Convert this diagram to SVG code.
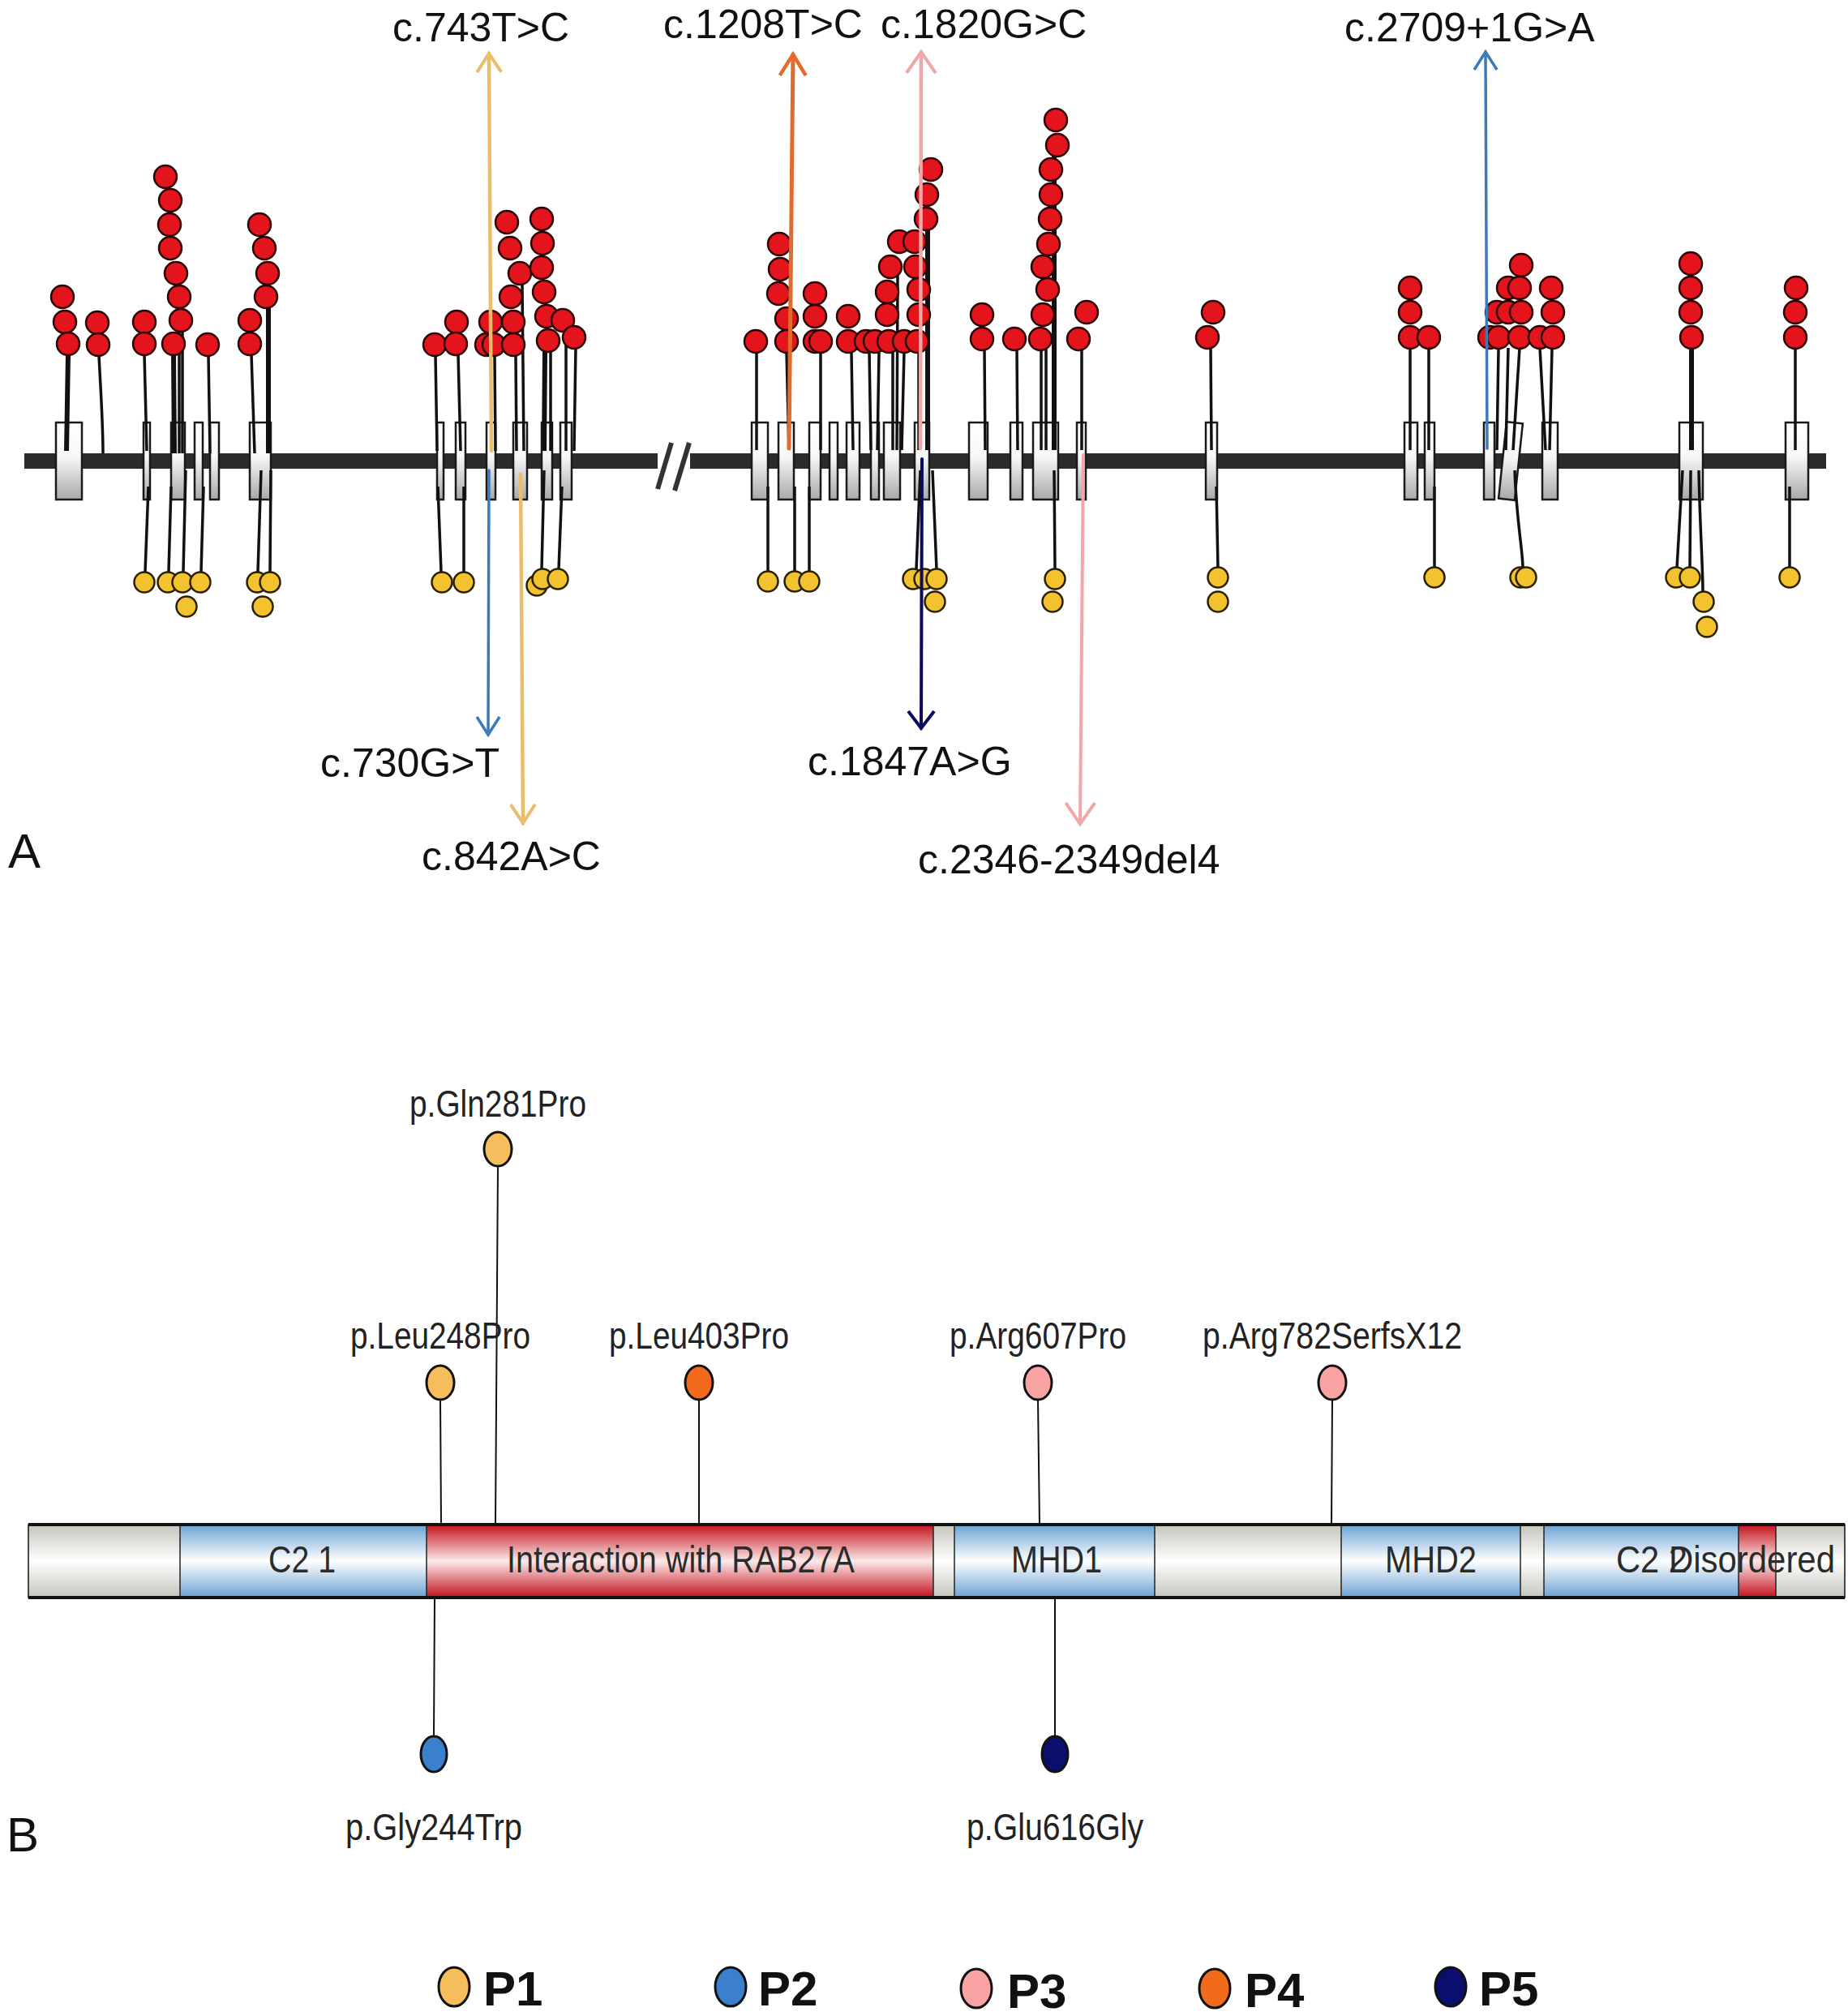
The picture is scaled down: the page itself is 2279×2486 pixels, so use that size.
<svg xmlns="http://www.w3.org/2000/svg" width="2279" height="2486" viewBox="0 0 2279 2486">
<style>
text{font-family:"Liberation Sans",Arial,sans-serif}
.lab{font-size:50px;fill:#111}
.plab{font-size:46px;fill:#222;text-anchor:middle}
.dom{font-size:47px;fill:#2b2b2b}
.panel{font-size:60px;fill:#111}
.leg{font-size:60px;font-weight:bold;fill:#111}
.ex{fill:url(#exg);stroke:#1a1a1a;stroke-width:2.5}
.r{fill:#e3141b;stroke:#2a0505;stroke-width:2.5}
.y{fill:#f3c22f;stroke:#2a2000;stroke-width:2.5}
.st{stroke:#111;stroke-width:3.5;fill:none}
.stk{stroke:#111;stroke-width:6;fill:none}
.ps{stroke:#111;stroke-width:2;fill:none}
.pe{stroke:#111;stroke-width:3}
.arr{fill:none;stroke-linecap:round}
.seg{stroke:#222;stroke-width:1.5}
</style>
<defs>
<linearGradient id="exg" x1="0" y1="0" x2="0" y2="1"><stop offset="0" stop-color="#ffffff"/><stop offset="0.45" stop-color="#f7f7f7"/><stop offset="1" stop-color="#a8a8a8"/></linearGradient>
<linearGradient id="gGrey" x1="0" y1="0" x2="0" y2="1"><stop offset="0" stop-color="#c4c5bc"/><stop offset="0.5" stop-color="#ffffff"/><stop offset="1" stop-color="#c4c5bc"/></linearGradient>
<linearGradient id="gBlue" x1="0" y1="0" x2="0" y2="1"><stop offset="0" stop-color="#6aa2d3"/><stop offset="0.5" stop-color="#ffffff"/><stop offset="1" stop-color="#6aa2d3"/></linearGradient>
<linearGradient id="gRed" x1="0" y1="0" x2="0" y2="1"><stop offset="0" stop-color="#c3111b"/><stop offset="0.5" stop-color="#fbeaea"/><stop offset="1" stop-color="#c3111b"/></linearGradient>
<marker id="mGold" viewBox="-26 -20 30 40" refX="0" refY="0" markerWidth="30" markerHeight="40" markerUnits="userSpaceOnUse" orient="auto"><path d="M-23,-15 L0,0 L-23,15" fill="none" stroke="#e9bd6a" stroke-width="4"/></marker>
<marker id="mBlue" viewBox="-26 -20 30 40" refX="0" refY="0" markerWidth="30" markerHeight="40" markerUnits="userSpaceOnUse" orient="auto"><path d="M-22,-14 L0,0 L-22,14" fill="none" stroke="#3d7ab8" stroke-width="3.5"/></marker>
<marker id="mOrange" viewBox="-30 -20 34 40" refX="0" refY="0" markerWidth="34" markerHeight="40" markerUnits="userSpaceOnUse" orient="auto"><path d="M-26,-16 L0,0 L-26,16" fill="none" stroke="#e26a2c" stroke-width="4.5"/></marker>
<marker id="mPink" viewBox="-30 -22 34 44" refX="0" refY="0" markerWidth="34" markerHeight="44" markerUnits="userSpaceOnUse" orient="auto"><path d="M-26,-18 L0,0 L-26,18" fill="none" stroke="#f1a7a7" stroke-width="4"/></marker>
<marker id="mNavy" viewBox="-26 -20 30 40" refX="0" refY="0" markerWidth="30" markerHeight="40" markerUnits="userSpaceOnUse" orient="auto"><path d="M-21,-16 L0,0 L-21,16" fill="none" stroke="#0b0b5c" stroke-width="4"/></marker>
</defs>
<rect width="2279" height="2486" fill="#ffffff"/>

<!-- PANEL A -->
<g id="backbone">
<rect x="30" y="559" width="781" height="19" fill="#2b2b2b"/>
<rect x="851" y="559" width="1401" height="19" fill="#2b2b2b"/>
<line x1="811" y1="603" x2="828" y2="546" stroke="#333" stroke-width="6"/>
<line x1="832" y1="605" x2="850" y2="546" stroke="#333" stroke-width="6"/>
</g>

<g id="exons">
<rect class="ex" x="69" y="521" width="32" height="95"/>
<rect class="ex" x="177" y="521" width="8" height="95"/>
<rect class="ex" x="211" y="521" width="17" height="95"/>
<rect class="ex" x="240" y="521" width="10" height="95"/>
<rect class="ex" x="259" y="521" width="11" height="95"/>
<rect class="ex" x="308" y="521" width="26" height="95"/>
<rect class="ex" x="539" y="521" width="8" height="95"/>
<rect class="ex" x="562" y="521" width="12" height="95"/>
<rect class="ex" x="600" y="521" width="11" height="95"/>
<rect class="ex" x="633" y="521" width="17" height="95"/>
<rect class="ex" x="668" y="521" width="13" height="95"/>
<rect class="ex" x="691" y="521" width="14" height="95"/>
<rect class="ex" x="927" y="521" width="20" height="95"/>
<rect class="ex" x="960" y="521" width="19" height="95"/>
<rect class="ex" x="998" y="521" width="14" height="95"/>
<rect class="ex" x="1023" y="521" width="10" height="95"/>
<rect class="ex" x="1044" y="521" width="16" height="95"/>
<rect class="ex" x="1074" y="521" width="10" height="95"/>
<rect class="ex" x="1090" y="521" width="20" height="95"/>
<rect class="ex" x="1128" y="521" width="18" height="95"/>
<rect class="ex" x="1195" y="521" width="23" height="95"/>
<rect class="ex" x="1246" y="521" width="15" height="95"/>
<rect class="ex" x="1274" y="521" width="31" height="95"/>
<rect class="ex" x="1328" y="521" width="11" height="95"/>
<rect class="ex" x="1487" y="521" width="14" height="95"/>
<rect class="ex" x="1732" y="521" width="16" height="95"/>
<rect class="ex" x="1757" y="521" width="12" height="95"/>
<rect class="ex" x="1830" y="521" width="13" height="95"/>
<rect class="ex" x="1853" y="521" width="20" height="95" transform="rotate(6 1863 568)"/>
<rect class="ex" x="1902" y="521" width="19" height="95"/>
<rect class="ex" x="2071" y="521" width="29" height="95"/>
<rect class="ex" x="2202" y="521" width="28" height="95"/>
</g>

<g id="red-lollipops">
<g id="r-stems">
<path class="stk" d="M84,437 L82,556"/>
<path class="st" d="M122,438 C124,480 127,520 127,559"/>
<path class="st" d="M178,437 L181,556"/>
<path class="stk" d="M214,437 L215,559"/>
<path class="st" d="M221,400 L221,559"/>
<path class="st" d="M225,400 L225,559"/>
<path class="st" d="M257,438 L259,559"/>
<path class="st" d="M310,437 L314,559"/>
<path class="stk" d="M331,379 L331,559"/>
<path class="st" d="M537,438 L539,556"/>
<path class="st" d="M565,437 L568,556"/>
<path class="st" d="M610,437 L611,556"/>
<path class="st" d="M636,437 L637,556"/>
<path class="st" d="M644,350 L646,556"/>
<path class="stk" d="M672,433 L671,556"/>
<path class="st" d="M679,433 L679,556"/>
<path class="st" d="M698,408 L698,556"/>
<path class="st" d="M710,429 L708,556"/>
<path class="st" d="M933,434 L933,555"/>
<path class="st" d="M970,434 L973,555"/>
<path class="st" d="M1012,434 L1012,555"/>
<path class="st" d="M1050,434 L1052,555"/>
<path class="st" d="M1072,434 L1074,555"/>
<path class="st" d="M1084,434 L1082,555"/>
<path class="st" d="M1101,434 L1101,555"/>
<path class="st" d="M1107,340 L1106,555"/>
<path class="st" d="M1115,434 L1112,555"/>
<path class="st" d="M1133,434 L1133,555"/>
<path class="stk" d="M1144,283 L1144,555"/>
<path class="st" d="M1214,431 L1215,555"/>
<path class="st" d="M1254,431 L1255,555"/>
<path class="stk" d="M1300,192 L1300,555"/>
<path class="st" d="M1284,431 L1284,555"/>
<path class="st" d="M1290,431 L1290,555"/>
<path class="st" d="M1334,431 L1334,555"/>
<path class="st" d="M1493,429 L1494,555"/>
<path class="st" d="M1739,429 L1739,555"/>
<path class="st" d="M1762,429 L1762,555"/>
<path class="st" d="M1848,429 L1846,555"/>
<path class="st" d="M1860,429 L1857,555"/>
<path class="st" d="M1874,429 L1866,555"/>
<path class="st" d="M1899,429 L1906,555"/>
<path class="st" d="M1914,429 L1911,555"/>
<path class="stk" d="M2086,429 L2086,555"/>
<path class="st" d="M2214,429 L2214,555"/>
</g>
<g id="r-heads">
<circle class="r" cx="77" cy="366" r="14"/><circle class="r" cx="80" cy="397" r="14"/><circle class="r" cx="84" cy="424" r="14"/>
<circle class="r" cx="120" cy="398" r="14"/><circle class="r" cx="121" cy="425" r="14"/>
<circle class="r" cx="178" cy="397" r="14"/><circle class="r" cx="178" cy="424" r="14"/>
<circle class="r" cx="204" cy="218" r="14"/><circle class="r" cx="210" cy="247" r="14"/><circle class="r" cx="209" cy="277" r="14"/><circle class="r" cx="210" cy="306" r="14"/><circle class="r" cx="217" cy="337" r="14"/><circle class="r" cx="221" cy="366" r="14"/><circle class="r" cx="223" cy="395" r="14"/><circle class="r" cx="214" cy="424" r="14"/>
<circle class="r" cx="256" cy="425" r="14"/>
<circle class="r" cx="308" cy="395" r="14"/><circle class="r" cx="308" cy="424" r="14"/>
<circle class="r" cx="320" cy="277" r="14"/><circle class="r" cx="326" cy="306" r="14"/><circle class="r" cx="330" cy="337" r="14"/><circle class="r" cx="328" cy="366" r="14"/>
<circle class="r" cx="536" cy="425" r="14"/>
<circle class="r" cx="563" cy="397" r="14"/><circle class="r" cx="562" cy="424" r="14"/>
<circle class="r" cx="605" cy="397" r="14"/><circle class="r" cx="600" cy="425" r="14"/><circle class="r" cx="609" cy="425" r="14"/>
<circle class="r" cx="625" cy="274" r="14"/><circle class="r" cx="629" cy="306" r="14"/><circle class="r" cx="641" cy="337" r="14"/><circle class="r" cx="630" cy="366" r="14"/><circle class="r" cx="633" cy="397" r="14"/><circle class="r" cx="633" cy="425" r="14"/>
<circle class="r" cx="668" cy="270" r="14"/><circle class="r" cx="669" cy="300" r="14"/><circle class="r" cx="668" cy="330" r="14"/><circle class="r" cx="671" cy="360" r="14"/><circle class="r" cx="674" cy="390" r="14"/><circle class="r" cx="676" cy="420" r="14"/>
<circle class="r" cx="694" cy="395" r="14"/><circle class="r" cx="708" cy="416" r="14"/>
<circle class="r" cx="932" cy="421" r="14"/>
<circle class="r" cx="961" cy="301" r="14"/><circle class="r" cx="962" cy="332" r="14"/><circle class="r" cx="960" cy="362" r="14"/><circle class="r" cx="970" cy="393" r="14"/><circle class="r" cx="970" cy="421" r="14"/>
<circle class="r" cx="1005" cy="362" r="14"/><circle class="r" cx="1005" cy="390" r="14"/><circle class="r" cx="1005" cy="421" r="14"/><circle class="r" cx="1012" cy="421" r="14"/>
<circle class="r" cx="1046" cy="390" r="14"/><circle class="r" cx="1046" cy="421" r="14"/>
<circle class="r" cx="1068" cy="421" r="14"/><circle class="r" cx="1079" cy="421" r="14"/>
<circle class="r" cx="1109" cy="298" r="14"/><circle class="r" cx="1098" cy="329" r="14"/><circle class="r" cx="1094" cy="360" r="14"/><circle class="r" cx="1094" cy="388" r="14"/><circle class="r" cx="1096" cy="421" r="14"/><circle class="r" cx="1115" cy="421" r="14"/>
<circle class="r" cx="1128" cy="298" r="14"/><circle class="r" cx="1129" cy="329" r="14"/><circle class="r" cx="1133" cy="357" r="14"/><circle class="r" cx="1133" cy="388" r="14"/><circle class="r" cx="1131" cy="421" r="14"/><circle class="r" cx="1148" cy="209" r="14"/><circle class="r" cx="1143" cy="240" r="14"/><circle class="r" cx="1142" cy="270" r="14"/>
<circle class="r" cx="1211" cy="388" r="14"/><circle class="r" cx="1211" cy="418" r="14"/>
<circle class="r" cx="1251" cy="418" r="14"/>
<circle class="r" cx="1302" cy="148" r="14"/><circle class="r" cx="1304" cy="179" r="14"/><circle class="r" cx="1296" cy="209" r="14"/><circle class="r" cx="1296" cy="240" r="14"/><circle class="r" cx="1295" cy="270" r="14"/><circle class="r" cx="1293" cy="301" r="14"/><circle class="r" cx="1286" cy="329" r="14"/><circle class="r" cx="1292" cy="357" r="14"/><circle class="r" cx="1286" cy="388" r="14"/><circle class="r" cx="1283" cy="418" r="14"/>
<circle class="r" cx="1340" cy="385" r="14"/><circle class="r" cx="1330" cy="418" r="14"/>
<circle class="r" cx="1496" cy="385" r="14"/><circle class="r" cx="1489" cy="416" r="14"/>
<circle class="r" cx="1739" cy="355" r="14"/><circle class="r" cx="1739" cy="385" r="14"/><circle class="r" cx="1739" cy="416" r="14"/><circle class="r" cx="1762" cy="416" r="14"/>
<circle class="r" cx="1837" cy="416" r="14"/><circle class="r" cx="1846" cy="385" r="14"/><circle class="r" cx="1860" cy="355" r="14"/><circle class="r" cx="1876" cy="327" r="14"/><circle class="r" cx="1874" cy="355" r="14"/><circle class="r" cx="1860" cy="385" r="14"/><circle class="r" cx="1876" cy="385" r="14"/><circle class="r" cx="1848" cy="416" r="14"/><circle class="r" cx="1874" cy="416" r="14"/><circle class="r" cx="1899" cy="416" r="14"/>
<circle class="r" cx="1913" cy="355" r="14"/><circle class="r" cx="1915" cy="385" r="14"/><circle class="r" cx="1915" cy="416" r="14"/>
<circle class="r" cx="2085" cy="325" r="14"/><circle class="r" cx="2085" cy="355" r="14"/><circle class="r" cx="2085" cy="385" r="14"/><circle class="r" cx="2086" cy="416" r="14"/>
<circle class="r" cx="2215" cy="355" r="14"/><circle class="r" cx="2214" cy="385" r="14"/><circle class="r" cx="2214" cy="416" r="14"/>
</g>
</g>

<g id="yellow-lollipops">
<g id="y-stems">
<path class="st" d="M183,600 L179,705"/>
<path class="st" d="M211,600 L208,705"/>
<path class="st" d="M229,580 L226,705"/>
<path class="st" d="M251,600 L248,705"/>
<path class="st" d="M322,580 L318,705"/>
<path class="st" d="M334,580 L333,705"/>
<path class="st" d="M540,600 L544,705"/>
<path class="st" d="M572,600 L572,705"/>
<path class="st" d="M671,580 L668,702"/>
<path class="st" d="M693,600 L689,702"/>
<path class="st" d="M947,600 L947,705"/>
<path class="st" d="M980,600 L980,705"/>
<path class="st" d="M998,600 L998,705"/>
<path class="st" d="M1135,580 L1130,702"/>
<path class="st" d="M1150,580 L1155,702"/>
<path class="st" d="M1300,580 L1301,702"/>
<path class="st" d="M1500,600 L1502,700"/>
<path class="st" d="M1769,600 L1769,700"/>
<path class="st" d="M1868,580 C1870,640 1878,680 1878,700"/>
<path class="st" d="M2075,580 L2068,700"/>
<path class="st" d="M2085,580 L2084,700"/>
<path class="st" d="M2095,580 C2096,640 2100,700 2100,730"/>
<path class="st" d="M2207,600 L2207,700"/>
</g>
<g id="y-heads">
<circle class="y" cx="178" cy="718" r="12.5"/>
<circle class="y" cx="207" cy="718" r="12.5"/>
<circle class="y" cx="225" cy="718" r="12.5"/><circle class="y" cx="230" cy="748" r="12.5"/>
<circle class="y" cx="247" cy="718" r="12.5"/>
<circle class="y" cx="317" cy="718" r="12.5"/><circle class="y" cx="333" cy="718" r="12.5"/><circle class="y" cx="324" cy="748" r="12.5"/>
<circle class="y" cx="545" cy="718" r="12.5"/>
<circle class="y" cx="572" cy="718" r="12.5"/>
<circle class="y" cx="662" cy="722" r="12.5"/><circle class="y" cx="669" cy="714" r="12.5"/>
<circle class="y" cx="688" cy="714" r="12.5"/>
<circle class="y" cx="947" cy="717" r="12.5"/>
<circle class="y" cx="980" cy="717" r="12.5"/><circle class="y" cx="998" cy="717" r="12.5"/>
<circle class="y" cx="1126" cy="714" r="12.5"/><circle class="y" cx="1140" cy="714" r="12.5"/><circle class="y" cx="1155" cy="714" r="12.5"/><circle class="y" cx="1153" cy="742" r="12.5"/>
<circle class="y" cx="1301" cy="714" r="12.5"/><circle class="y" cx="1298" cy="742" r="12.5"/>
<circle class="y" cx="1502" cy="712" r="12.5"/><circle class="y" cx="1502" cy="742" r="12.5"/>
<circle class="y" cx="1769" cy="712" r="12.5"/>
<circle class="y" cx="1875" cy="712" r="12.5"/><circle class="y" cx="1882" cy="712" r="12.5"/>
<circle class="y" cx="2067" cy="712" r="12.5"/><circle class="y" cx="2084" cy="712" r="12.5"/><circle class="y" cx="2101" cy="742" r="12.5"/><circle class="y" cx="2105" cy="773" r="12.5"/>
<circle class="y" cx="2207" cy="712" r="12.5"/>
</g>
</g>

<g id="connectors">
<path class="arr" d="M606,556 L603,66" stroke="#e9bd6a" stroke-width="4.5" marker-end="url(#mGold)"/>
<path class="arr" d="M603,580 L602,906" stroke="#3d7ab8" stroke-width="3.5" marker-end="url(#mBlue)"/>
<path class="arr" d="M642,585 L645,1015" stroke="#e9bd6a" stroke-width="4.5" marker-end="url(#mGold)"/>
<path class="arr" d="M973,553 L978,67" stroke="#e26a2c" stroke-width="5" marker-end="url(#mOrange)"/>
<path class="arr" d="M1135,553 L1136,64" stroke="#f1a7a7" stroke-width="4.5" marker-end="url(#mPink)"/>
<path class="arr" d="M1137,566 L1136,898" stroke="#0b0b5c" stroke-width="4" marker-end="url(#mNavy)"/>
<path class="arr" d="M1336,561 L1332,1016" stroke="#f1a7a7" stroke-width="4" marker-end="url(#mPink)"/>
<path class="arr" d="M1834,553 L1832,64" stroke="#3d7ab8" stroke-width="3.5" marker-end="url(#mBlue)"/>
</g>

<g id="labels-a">
<text class="lab" x="484" y="51">c.743T&gt;C</text>
<text class="lab" x="818" y="47">c.1208T&gt;C</text>
<text class="lab" x="1086" y="47">c.1820G&gt;C</text>
<text class="lab" x="1658" y="51">c.2709+1G&gt;A</text>
<text class="lab" x="395" y="958">c.730G&gt;T</text>
<text class="lab" x="996" y="956">c.1847A&gt;G</text>
<text class="lab" x="520" y="1073">c.842A&gt;C</text>
<text class="lab" x="1132" y="1077">c.2346-2349del4</text>
<text class="panel" x="10" y="1070">A</text>
</g>

<!-- PANEL B -->
<g id="protein">
<g id="dom-n"><rect x="35" y="1880" width="187" height="90" fill="url(#gGrey)"/></g>
<g id="dom-c21"><rect x="222" y="1880" width="304" height="90" fill="url(#gBlue)"/><text class="dom" x="331" y="1939" textLength="83" lengthAdjust="spacingAndGlyphs">C2 1</text></g>
<g id="dom-rab27a"><rect x="526" y="1880" width="625" height="90" fill="url(#gRed)"/><text class="dom" x="625" y="1939" textLength="429" lengthAdjust="spacingAndGlyphs">Interaction with RAB27A</text></g>
<g id="dom-l1"><rect x="1151" y="1880" width="26" height="90" fill="url(#gGrey)"/></g>
<g id="dom-mhd1"><rect x="1177" y="1880" width="247" height="90" fill="url(#gBlue)"/><text class="dom" x="1247" y="1939" textLength="112" lengthAdjust="spacingAndGlyphs">MHD1</text></g>
<g id="dom-l2"><rect x="1424" y="1880" width="230" height="90" fill="url(#gGrey)"/></g>
<g id="dom-mhd2"><rect x="1654" y="1880" width="221" height="90" fill="url(#gBlue)"/><text class="dom" x="1708" y="1939" textLength="113" lengthAdjust="spacingAndGlyphs">MHD2</text></g>
<g id="dom-l3"><rect x="1875" y="1880" width="29" height="90" fill="url(#gGrey)"/></g>
<g id="dom-c22"><rect x="1904" y="1880" width="240" height="90" fill="url(#gBlue)"/></g>
<g id="dom-dis"><rect x="2144" y="1880" width="46" height="90" fill="url(#gRed)"/></g>
<g id="dom-c"><rect x="2190" y="1880" width="85" height="90" fill="url(#gGrey)"/></g>
<g id="seps">
<line class="seg" x1="222" y1="1880" x2="222" y2="1970"/>
<line class="seg" x1="526" y1="1880" x2="526" y2="1970"/>
<line class="seg" x1="1151" y1="1880" x2="1151" y2="1970"/>
<line class="seg" x1="1177" y1="1880" x2="1177" y2="1970"/>
<line class="seg" x1="1424" y1="1880" x2="1424" y2="1970"/>
<line class="seg" x1="1654" y1="1880" x2="1654" y2="1970"/>
<line class="seg" x1="1875" y1="1880" x2="1875" y2="1970"/>
<line class="seg" x1="1904" y1="1880" x2="1904" y2="1970"/>
<line class="seg" x1="2144" y1="1880" x2="2144" y2="1970"/>
<line class="seg" x1="2190" y1="1880" x2="2190" y2="1970"/>
</g>
<text class="dom" x="1993" y="1939" textLength="88" lengthAdjust="spacingAndGlyphs">C2 2</text>
<text class="dom" x="2058" y="1939" textLength="205" lengthAdjust="spacingAndGlyphs">Disordered</text>
<rect x="35" y="1880" width="2240" height="90" fill="none" stroke="#111" stroke-width="1.5"/>
<line x1="35" y1="1880" x2="2275" y2="1880" stroke="#111" stroke-width="4"/>
<line x1="35" y1="1970" x2="2275" y2="1970" stroke="#111" stroke-width="4"/>
</g>

<g id="variant-stems">
<path class="ps" d="M614,1438 L611,1880"/>
<path class="ps" d="M543,1726 L544,1880"/>
<path class="ps" d="M862,1726 L862,1880"/>
<path class="ps" d="M1280,1726 L1282,1880"/>
<path class="ps" d="M1643,1726 L1642,1880"/>
<path class="ps" d="M536,1970 L535,2141"/>
<path class="ps" d="M1301,1970 L1301,2141"/>
</g>

<g id="v-gln281"><ellipse class="pe" cx="614" cy="1417" rx="17" ry="21" fill="#f5bd5b"/><text class="plab" x="614" y="1377" textLength="218" lengthAdjust="spacingAndGlyphs">p.Gln281Pro</text></g>
<g id="v-leu248"><ellipse class="pe" cx="543" cy="1705" rx="17" ry="21" fill="#f5bd5b"/><text class="plab" x="543" y="1663" textLength="222" lengthAdjust="spacingAndGlyphs">p.Leu248Pro</text></g>
<g id="v-leu403"><ellipse class="pe" cx="862" cy="1705" rx="17" ry="21" fill="#f26a1b"/><text class="plab" x="862" y="1663" textLength="222" lengthAdjust="spacingAndGlyphs">p.Leu403Pro</text></g>
<g id="v-arg607"><ellipse class="pe" cx="1280" cy="1705" rx="17" ry="21" fill="#f9a3a3"/><text class="plab" x="1280" y="1663" textLength="218" lengthAdjust="spacingAndGlyphs">p.Arg607Pro</text></g>
<g id="v-arg782"><ellipse class="pe" cx="1643" cy="1705" rx="17" ry="21" fill="#f9a3a3"/><text class="plab" x="1643" y="1663" textLength="320" lengthAdjust="spacingAndGlyphs">p.Arg782SerfsX12</text></g>
<g id="v-gly244"><ellipse class="pe" cx="535" cy="2163" rx="16" ry="22" fill="#3a80cc"/><text class="plab" x="535" y="2269" textLength="218" lengthAdjust="spacingAndGlyphs">p.Gly244Trp</text></g>
<g id="v-glu616"><ellipse class="pe" cx="1301" cy="2163" rx="16" ry="22" fill="#0a0f6e"/><text class="plab" x="1301" y="2269" textLength="218" lengthAdjust="spacingAndGlyphs">p.Glu616Gly</text></g>

<text class="panel" x="8" y="2283">B</text>

<g id="legend">
<g id="leg-p1"><ellipse class="pe" cx="560" cy="2450" rx="19" ry="24" fill="#f5bd5b"/><text class="leg" x="596" y="2473">P1</text></g>
<g id="leg-p2"><ellipse class="pe" cx="901" cy="2450" rx="19" ry="24" fill="#3a80cc"/><text class="leg" x="935" y="2473">P2</text></g>
<g id="leg-p3"><ellipse class="pe" cx="1204" cy="2452" rx="19" ry="24" fill="#f9a3a3"/><text class="leg" x="1242" y="2476">P3</text></g>
<g id="leg-p4"><ellipse class="pe" cx="1498" cy="2452" rx="19" ry="24" fill="#f26a1b"/><text class="leg" x="1535" y="2475">P4</text></g>
<g id="leg-p5"><ellipse class="pe" cx="1789" cy="2450" rx="19" ry="24" fill="#0a0f6e"/><text class="leg" x="1824" y="2473">P5</text></g>
</g>
</svg>
